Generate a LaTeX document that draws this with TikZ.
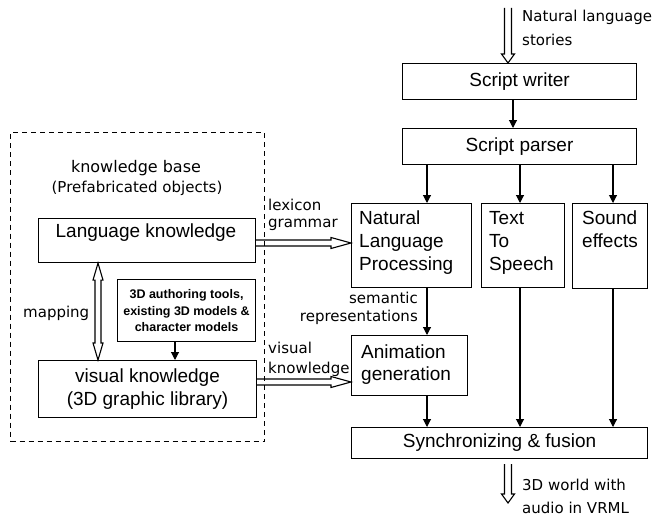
\documentclass[tikz,border=0pt]{standalone}
\usepackage{fontspec}
\setmainfont{Liberation Sans}
\newfontfamily\lblfont{DejaVu Sans}
\usetikzlibrary{arrows.meta,calc}
\tikzset{
  box/.style={draw, line width=1.1pt, inner sep=0pt, anchor=north west},
  boxtext/.style={font=\fontsize{19}{23}\selectfont, inner sep=0pt, align=left},
  lbl/.style={font=\lblfont\fontsize{15}{21}\selectfont, inner sep=0pt},
  conn/.style={line width=1.1pt, -{Triangle[length=8pt,width=8pt]}},
  hollow/.style={line width=1.1pt, line join=miter},
  kbframe/.style={draw, line width=1pt, dash pattern=on 5pt off 4pt, inner sep=0pt, anchor=north west}
}
% vertical hollow arrow, open at the top: #1 start, #2 tip
\newcommand\hollowdown[2]{\draw[hollow] let \p1=(#1),\p2=(#2) in
  (\x2-3.5pt,\y1) -- (\x2-3.5pt,\y2+9pt) -- (\x2-6.5pt,\y2+9pt) -- (\x2,\y2)
  -- (\x2+6.5pt,\y2+9pt) -- (\x2+3.5pt,\y2+9pt) -- (\x2+3.5pt,\y1);}
% horizontal hollow arrow to the right: #1 start, #2 tip
\newcommand\hollowright[2]{\draw[hollow] let \p1=(#1),\p2=(#2) in
  (\x1,\y2+3pt) -- (\x2-20pt,\y2+3pt) -- (\x2-20pt,\y2+5.5pt) -- (\x2,\y2)
  -- (\x2-20pt,\y2-5.5pt) -- (\x2-20pt,\y2-3pt) -- (\x1,\y2-3pt);}
% vertical double-headed hollow arrow: #1 top tip, #2 bottom tip
\newcommand\hollowboth[2]{\draw[hollow] let \p1=(#1),\p2=(#2) in
  (\x1,\y1) -- (\x1+5pt,\y1-17pt) -- (\x1+3pt,\y1-17pt) -- (\x1+3pt,\y2+17pt)
  -- (\x1+5pt,\y2+17pt) -- (\x1,\y2) -- (\x1-5pt,\y2+17pt) -- (\x1-3pt,\y2+17pt)
  -- (\x1-3pt,\y1-17pt) -- (\x1-5pt,\y1-17pt) -- cycle;}
\begin{document}
\begin{tikzpicture}[x=1pt,y=-1pt]
\useasboundingbox (0,0) rectangle (663,516);

% knowledge base frame
\node[kbframe, minimum width=254pt, minimum height=309pt] (kb) at (10,132) {};
\node[lbl, font=\lblfont\fontsize{16}{20}\selectfont] (kbt1) at (136,168) {knowledge base};
\node[lbl] (kbt2) at (137,188) {(Prefabricated objects)};

% boxes
\node[box, boxtext, align=center, minimum width=234pt, minimum height=36pt] (writer) at (402,63) {Script writer};
\node[box, boxtext, align=center, minimum width=234pt, minimum height=36pt] (parser) at (402,128) {Script parser};
\node[box, minimum width=120pt, minimum height=84pt] (nlp) at (351,203) {};
\node[boxtext, anchor=north west] (nlpt) at (359,211) {Natural\\Language\\Processing};
\node[box, minimum width=83pt, minimum height=84pt] (tts) at (481,203) {};
\node[boxtext, anchor=north west] (ttst) at (489,211) {Text\\To\\Speech};
\node[box, minimum width=75pt, minimum height=85pt] (sound) at (572,203) {};
\node[boxtext, anchor=north west] (soundt) at (582,211) {Sound\\effects};
\node[box, minimum width=116pt, minimum height=60pt] (anim) at (351,335) {};
\node[boxtext, anchor=north west, font=\fontsize{19}{21.5}\selectfont] (animt) at (361,345) {Animation\\generation};
\node[box, boxtext, align=center, minimum width=296pt, minimum height=31pt] (sync) at (351,427) {Synchronizing \& fusion};

\node[box, minimum width=217pt, minimum height=44pt] (lang) at (38,218) {};
\node[boxtext] (langt) at (146,233) {Language knowledge};
\node[box, font=\bfseries\fontsize{12.5}{16.5}\selectfont, align=center, minimum width=138pt, minimum height=62pt] (auth) at (117,279) {3D authoring tools,\\existing 3D models \&\\character models};
\node[box, boxtext, align=center, minimum width=218pt, minimum height=57pt] (vis) at (38,360) {visual knowledge\\(3D graphic library)};

% labels
\node[lbl, anchor=west] (in1) at (522,17) {Natural language};
\node[lbl, anchor=west] (in2) at (522,40) {stories};
\node[lbl, anchor=west] (lx1) at (268,205) {lexicon};
\node[lbl, anchor=west] (lx2) at (268,225) {grammar};
\node[lbl, anchor=west] (vk1) at (268,348) {visual};
\node[lbl, anchor=west] (vk2) at (268,369) {knowledge};
\node[lbl, anchor=east] (sr1) at (418,298) {semantic};
\node[lbl, anchor=east] (sr2) at (418,317) {representations};
\node[lbl, anchor=west] (mp) at (23,313) {mapping};
\node[lbl, anchor=west] (out1) at (522,485) {3D world with};
\node[lbl, anchor=west] (out2) at (522,508) {audio in VRML};

% coordinates for connector columns
\coordinate (cw) at (513,0);
\coordinate (c1) at (427,0);
\coordinate (c2) at (520,0);
\coordinate (c3) at (613,0);
\coordinate (ca) at (175,0);
\coordinate (instart) at (508,8);
\coordinate (outstart) at (508,464);
\coordinate (outend) at (508,503);
\coordinate (ylx) at (0,243);
\coordinate (yvk) at (0,382);
\coordinate (cm) at (98,0);

% solid connectors
\draw[conn] (writer.south -| cw) -- (parser.north -| cw);
\draw[conn] (parser.south -| c1) -- (nlp.north -| c1);
\draw[conn] (parser.south -| c2) -- (tts.north -| c2);
\draw[conn] (parser.south -| c3) -- (sound.north -| c3);
\draw[conn] (nlp.south -| c1) -- (anim.north -| c1);
\draw[conn] (anim.south -| c1) -- (sync.north -| c1);
\draw[conn] (tts.south -| c2) -- (sync.north -| c2);
\draw[conn] (sound.south -| c3) -- (sync.north -| c3);
\draw[conn] (auth.south -| ca) -- (vis.north -| ca);

% hollow arrows
\hollowdown{instart}{writer.north -| instart}
\hollowdown{outstart}{outend}
\hollowright{lang.east |- ylx}{nlp.west |- ylx}
\hollowright{vis.east |- yvk}{anim.west |- yvk}
\hollowboth{lang.south -| cm}{vis.north -| cm}
\end{tikzpicture}
\end{document}
